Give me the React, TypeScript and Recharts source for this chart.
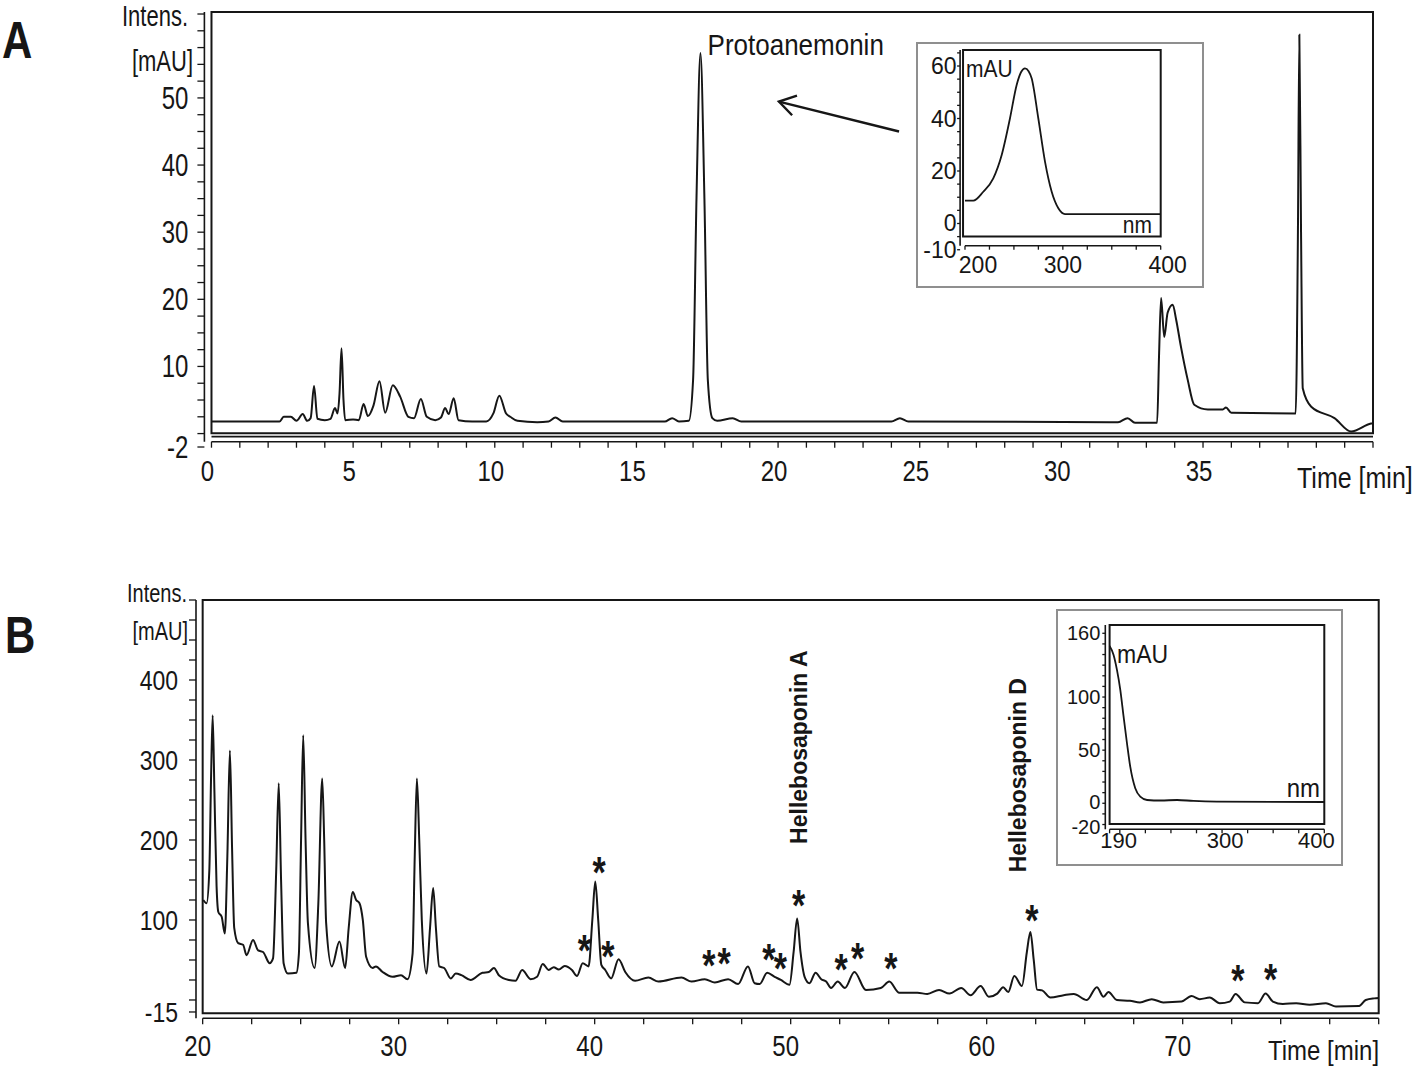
import React from "react";
import {
  ComposedChart,
  Line,
  Scatter,
  XAxis,
  YAxis,
  ReferenceArea,
  ReferenceLine,
} from "recharts";

const FONT = '"Liberation Sans", Arial, Helvetica, sans-serif';
const INK = "#161616";
const BOX_GREY = "#8f8f8f";

type Pt = [number, number];

// ---------- Panel A: chromatogram, time [min] vs intensity [mAU] ----------
const traceAEarly: Pt[] = [
  [0, 1.8], [2.4, 1.8], [2.55, 2.5], [2.8, 2.5], [3.0, 1.9], [3.22, 2.9],
  [3.38, 1.9], [3.5, 2.3], [3.62, 7.1], [3.74, 2.2], [4.0, 2.0], [4.2, 2.2],
  [4.36, 3.8], [4.45, 3.0], [4.52, 6.0], [4.59, 12.7], [4.66, 5.0], [4.72, 2.0],
  [5.0, 2.1], [5.2, 2.0], [5.37, 4.4], [5.52, 2.6], [5.72, 4.2], [5.93, 7.8],
  [6.13, 3.1], [6.4, 7.2], [6.66, 5.5], [6.95, 2.5], [7.15, 2.3], [7.39, 5.15],
  [7.6, 2.5], [7.9, 2.0], [8.1, 2.4], [8.25, 3.8], [8.37, 2.9], [8.55, 5.25],
  [8.72, 2.0], [9.2, 1.8], [9.7, 1.8], [9.95, 3.0], [10.16, 5.65], [10.4, 3.0],
  [10.55, 2.5], [10.8, 1.9], [11.5, 1.7], [11.9, 1.8], [12.14, 2.4], [12.4, 1.8],
];
const traceAMiddle: Pt[] = [
  [16.0, 1.8], [16.26, 2.3], [16.5, 1.8], [16.85, 1.9], [17.0, 8], [17.12, 35],
  [17.26, 56.7], [17.4, 35], [17.52, 8], [17.68, 2.3], [17.85, 1.9], [18.4, 2.3],
  [18.7, 1.8], [24.0, 1.8], [24.3, 2.3], [24.6, 1.8],
];
const traceALate: Pt[] = [
  [32.0, 1.7], [32.34, 2.3], [32.6, 1.6], [33.38, 1.6], [33.45, 12], [33.52, 20.2],
  [33.63, 14.4], [33.75, 18], [33.93, 19.2], [34.05, 17], [34.22, 12.95],
  [34.46, 8.0], [34.69, 4.3], [35.17, 3.6], [35.7, 3.6], [35.81, 3.9], [36.0, 3.1],
  [38.27, 3.0], [38.35, 30], [38.4, 59.4], [38.46, 30], [38.52, 6.75], [38.82, 4.0],
  [39.64, 2.3], [40.23, 0.3], [40.93, 1.5], [41, 1.55],
];
// inset A: UV spectrum, nm vs mAU
const spectrumA: Pt[] = [
  [200, 8.7], [208.5, 8.7], [218.7, 12.1], [228.9, 17.2], [237.5, 26.1], [246, 40.1],
  [252.8, 52.8], [257.5, 57.8], [261.3, 59.1], [265, 58], [268.1, 55.3], [274.9, 40.1],
  [281.8, 23.5], [288.6, 12.1], [295.4, 5.8], [302.2, 3.6], [400, 3.6],
];
const protoLabel = [{ t: 17.51, v: 56.35, label: "Protoanemonin" }];
const arrowA: Pt[] = [[24.27, 45.0], [20.03, 49.46]];

// ---------- Panel B ----------
const traceBEarly: Pt[] = [
  [20.03, 125], [20.2, 121], [20.34, 162], [20.43, 280], [20.51, 356], [20.6, 260],
  [20.71, 142], [20.8, 110], [20.97, 104], [21.13, 83], [21.26, 180], [21.39, 312],
  [21.5, 190], [21.61, 90], [21.81, 71], [22.06, 69], [22.24, 56], [22.57, 75],
  [22.83, 62], [23.08, 60], [23.42, 46], [23.59, 52], [23.75, 160], [23.88, 271],
  [24.0, 150], [24.13, 46], [24.35, 33], [24.78, 34], [24.91, 58], [25.02, 200],
  [25.13, 331], [25.25, 200], [25.37, 96], [25.71, 40], [25.9, 120], [26.1, 277],
  [26.2, 200], [26.3, 96], [26.59, 42], [26.98, 73], [27.27, 40], [27.45, 90],
  [27.66, 135], [27.83, 125], [28.0, 121], [28.17, 100], [28.34, 54], [28.67, 40],
  [28.84, 42], [29.18, 35], [29.69, 29], [30.12, 31], [30.45, 26], [30.71, 58],
  [30.82, 180], [30.93, 277], [31.05, 200], [31.18, 100], [31.42, 33], [31.6, 90],
  [31.76, 140], [31.9, 90], [32.07, 42], [32.32, 40], [32.66, 27], [32.91, 33],
];
const traceBMid: Pt[] = [
  [33.2, 31], [33.67, 25], [34.27, 34], [34.6, 35], [34.86, 40], [35.11, 31],
  [35.62, 25], [35.96, 24], [36.3, 37.5], [36.73, 26], [37.06, 29], [37.35, 45],
  [37.66, 37.5], [37.91, 41], [38.17, 38], [38.47, 42.5], [38.84, 37.5], [39.1, 30],
  [39.39, 46], [39.69, 42], [39.88, 100], [40.03, 148], [40.18, 100], [40.34, 44],
  [40.54, 37.5], [40.84, 27], [41.22, 51], [41.56, 35], [42.06, 24], [42.74, 28],
  [43.25, 23], [44.43, 28], [44.94, 23], [45.62, 26], [46.13, 22], [46.81, 26],
  [47.32, 20], [47.82, 42], [48.16, 21], [48.42, 20], [48.8, 34], [49.18, 29],
  [49.5, 25], [49.94, 19], [50.15, 60], [50.33, 102], [50.5, 60], [50.71, 29],
  [50.96, 21], [51.27, 34], [51.56, 26], [51.81, 23], [52.06, 15], [52.4, 23],
  [52.77, 15], [53.25, 35], [53.84, 12.5], [54.6, 15], [55.03, 23], [55.54, 9],
];
const traceBLate: Pt[] = [
  [56.47, 9], [56.97, 7.5], [57.57, 12.5], [58.1, 8], [58.7, 15], [59.18, 6],
  [59.69, 17.5], [60.11, 4], [60.54, 8], [60.84, 16], [61.1, 10], [61.41, 30],
  [61.8, 17.5], [62.05, 60], [62.23, 85], [62.4, 50], [62.57, 13], [62.83, 12],
  [63.25, 3], [63.93, 6], [64.44, 7.5], [65.11, 0], [65.62, 16], [65.96, 4],
  [66.21, 10], [66.64, 0], [67.31, -1], [67.82, -3], [68.42, 1], [69.01, -3],
  [69.94, -2], [70.45, 5], [70.87, 1], [71.38, 3], [71.89, -4], [72.4, -2],
  [72.7, 7.5], [73.16, -3], [73.84, -4], [74.23, 8], [74.6, -2], [75.11, -5],
  [75.79, -4], [76.47, -6], [77.31, -4], [77.82, -8], [79.0, -7.5], [79.34, 0],
  [79.77, 2], [80, 2.5],
];
// inset B: UV spectrum
const spectrumB: Pt[] = [
  [190, 148], [193.9, 139.6], [197.2, 125.5], [200.5, 106.6], [203.7, 81.5],
  [207, 56.5], [210.2, 34.4], [215.1, 14.1], [220, 6.2], [226.6, 3.1], [240, 2.6],
  [256, 3.1], [272, 2.2], [295, 1.6], [400, 1.2],
];
// asterisks marking saponin peaks (position of the mark)
const starsB: Pt[] = [
  [39.47, 72.9], [40.23, 170.9], [40.67, 65.4], [45.83, 54.1], [46.6, 57.1],
  [48.89, 62.5], [49.47, 51.25], [50.4, 130], [52.57, 49.1], [53.42, 63.4],
  [55.11, 50.9], [62.31, 110.4], [72.82, 35.4], [74.48, 37.5],
];
const compoundsB = [
  { t: 50.41, v: 316, label: "Hellebosaponin A" },
  { t: 61.6, v: 281, label: "Hellebosaponin D" },
];

// tick labels
const aXLabels = [0, 5, 10, 15, 20, 25, 30, 35];
const aYLabels = [-2, 10, 20, 30, 40, 50];
const bXLabels = [20, 30, 40, 50, 60, 70];
const bYLabels = [-15, 100, 200, 300, 400];
const insetAXLabels = [200, 300, 400];
const insetAYLabels = [-10, 0, 20, 40, 60];
const insetBXLabels = [190, 300, 400];
const insetBYLabels = [-20, 0, 50, 100, 160];

const toRows = (...parts: Pt[][]) => parts.flat().map(([t, v]) => ({ t, v }));
const steps = (from: number, to: number, step: number) => {
  const out: number[] = [];
  for (let x = from; x <= to + 1e-9; x += step) out.push(Math.round(x * 100) / 100);
  return out;
};

const rowsA = toRows(traceAEarly, traceAMiddle, traceALate);
const rowsB = toRows(traceBEarly, traceBMid, traceBLate);
const rowsSpecA = toRows(spectrumA);
const rowsSpecB = toRows(spectrumB);
const rowsStars = toRows(starsB);

function StretchText(props: {
  x: number;
  y: number;
  size: number;
  sy?: number;
  anchor?: "start" | "middle" | "end";
  weight?: string;
  baseline?: string;
  innerDy?: number;
  children: React.ReactNode;
}) {
  const { x, y, size, sy = 1, anchor = "middle", weight = "normal", baseline = "central", innerDy = 0 } = props;
  return (
    <g transform={`translate(${x},${y}) scale(1,${sy})`}>
      <text
        x={0}
        y={innerDy}
        textAnchor={anchor}
        dominantBaseline={baseline}
        fontSize={size}
        fontWeight={weight}
        fontFamily={FONT}
        fill={INK}
      >
        {props.children}
      </text>
    </g>
  );
}

type TickOpts = {
  size: number;
  sy?: number;
  side: "left" | "bottom";
  dx?: number;
  dy?: number;
  shift?: Record<string, number>;
  shiftY?: Record<string, number>;
};

function makeTick(labels: number[], o: TickOpts) {
  return (p: any) => {
    const v = Number(p.payload?.value);
    if (!labels.some((l) => Math.abs(l - v) < 1e-6)) return <g />;
    const x = p.x + (o.dx ?? 0) + (o.shift?.[String(v)] ?? 0);
    const y = p.y + (o.dy ?? 0) + (o.shiftY?.[String(v)] ?? 0);
    return (
      <StretchText x={x} y={y} size={o.size} sy={o.sy} anchor={o.side === "left" ? "end" : "middle"}>
        {String(v)}
      </StretchText>
    );
  };
}

function ArrowShape(p: any) {
  const { x1, y1, x2, y2 } = p;
  const back = Math.atan2(y1 - y2, x1 - x2);
  const len = 19;
  const spread = 0.56;
  const a = [x2 + len * Math.cos(back - spread), y2 + len * Math.sin(back - spread)];
  const b = [x2 + len * Math.cos(back + spread), y2 + len * Math.sin(back + spread)];
  return (
    <g>
      <line x1={x1} y1={y1} x2={x2} y2={y2} stroke={INK} strokeWidth={2.4} />
      <polyline points={`${a[0]},${a[1]} ${x2},${y2} ${b[0]},${b[1]}`} fill="none" stroke={INK} strokeWidth={2.4} />
    </g>
  );
}

function ProtoShape(p: any) {
  return (
    <StretchText x={p.cx} y={p.cy} size={26} sy={1.1} anchor="start" baseline="alphabetic">
      {p.payload?.label ?? ""}
    </StretchText>
  );
}

function StarShape(p: any) {
  return (
    <StretchText x={p.cx} y={p.cy} size={34} sy={1.3} weight="bold" baseline="alphabetic" innerDy={19}>
      *
    </StretchText>
  );
}

function CompoundShape(p: any) {
  return (
    <text
      transform={`translate(${p.cx},${p.cy}) rotate(-90)`}
      textAnchor="middle"
      dominantBaseline="central"
      fontSize={23}
      fontWeight="bold"
      fontFamily={FONT}
      fill={INK}
    >
      {p.payload?.label ?? ""}
    </text>
  );
}

const axisLine = { stroke: INK, strokeWidth: 1.6 };
const tickLine = { stroke: INK, strokeWidth: 1.3 };

function PanelA() {
  return (
    <ComposedChart width={1417} height={520} margin={{ top: 12, right: 44, bottom: 18.3, left: 144.4 }}>
      <XAxis
        type="number"
        dataKey="t"
        domain={[-0.25, 41]}
        allowDataOverflow
        ticks={steps(0, 41, 1)}
        interval={0}
        tickSize={6}
        tickMargin={0}
        height={60}
        axisLine={false}
        tickLine={tickLine}
        tick={makeTick(aXLabels, { size: 24, sy: 1.25, side: "bottom", dx: -4, dy: 23.3 })}
      />
      <YAxis
        type="number"
        domain={[-1.21, 62.8]}
        allowDataOverflow
        ticks={[-2, ...steps(0, 62.5, 2.5)]}
        interval={0}
        tickSize={7}
        tickMargin={9}
        width={60}
        axisLine={axisLine}
        tickLine={tickLine}
        tick={makeTick(aYLabels, { size: 24, sy: 1.28, side: "left" })}
      />
      <ReferenceArea x1={0} x2={41} y1={0.04} y2={62.8} fill="none" stroke={INK} strokeWidth={2} ifOverflow="visible" />
      <ReferenceLine segment={[{ x: 0, y: -0.46 }, { x: 41, y: -0.46 }]} stroke={INK} strokeWidth={1.6} ifOverflow="visible" />
      <ReferenceLine segment={[{ x: 0, y: -1.21 }, { x: 41, y: -1.21 }]} stroke={INK} strokeWidth={1.6} ifOverflow="visible" />
      <Line
        data={rowsA}
        dataKey="v"
        type="monotone"
        stroke={INK}
        strokeWidth={2}
        dot={false}
        activeDot={false}
        isAnimationActive={false}
      />
      <ReferenceLine
        segment={[{ x: arrowA[0][0], y: arrowA[0][1] }, { x: arrowA[1][0], y: arrowA[1][1] }]}
        shape={ArrowShape}
        ifOverflow="visible"
      />
      <Scatter data={protoLabel} dataKey="v" shape={ProtoShape} isAnimationActive={false} />
    </ComposedChart>
  );
}

function PanelB() {
  return (
    <ComposedChart width={1417} height={537} margin={{ top: 70, right: 38.3, bottom: 8.7, left: 136 }}>
      <XAxis
        type="number"
        dataKey="t"
        domain={[19.66, 80]}
        allowDataOverflow
        ticks={steps(20, 80, 2.5)}
        interval={0}
        tickSize={6}
        tickMargin={0}
        height={40}
        axisLine={false}
        tickLine={tickLine}
        tick={makeTick(bXLabels, { size: 24, sy: 1.25, side: "bottom", dx: -5, dy: 21.7 })}
      />
      <YAxis
        type="number"
        domain={[-22.9, 500]}
        allowDataOverflow
        ticks={[-15, ...steps(0, 500, 25)]}
        interval={0}
        tickSize={7}
        tickMargin={11}
        width={60}
        axisLine={axisLine}
        tickLine={tickLine}
        tick={makeTick(bYLabels, { size: 23, sy: 1.22, side: "left" })}
      />
      <ReferenceArea x1={20} x2={80} y1={-16.6} y2={500} fill="none" stroke={INK} strokeWidth={2} ifOverflow="visible" />
      <ReferenceLine segment={[{ x: 20, y: -22.9 }, { x: 80, y: -22.9 }]} stroke={INK} strokeWidth={1.6} ifOverflow="visible" />
      <Line
        data={rowsB}
        dataKey="v"
        type="monotone"
        stroke={INK}
        strokeWidth={2}
        dot={false}
        activeDot={false}
        isAnimationActive={false}
      />
      <Scatter data={rowsStars} dataKey="v" shape={StarShape} isAnimationActive={false} />
      <Scatter data={compoundsB} dataKey="v" shape={CompoundShape} isAnimationActive={false} />
    </ComposedChart>
  );
}

function InsetA() {
  return (
    <ComposedChart width={286} height={244} margin={{ top: 7, right: 42.3, bottom: 11.3, left: 5.1 }}>
      <XAxis
        type="number"
        dataKey="t"
        domain={[195, 400]}
        allowDataOverflow
        ticks={steps(200, 400, 25)}
        interval={0}
        tickSize={4}
        tickMargin={0}
        height={30}
        axisLine={false}
        tickLine={tickLine}
        tick={makeTick(insetAXLabels, { size: 23, side: "bottom", dy: 15.3, shift: { "200": 13, "400": 7 } })}
      />
      <YAxis
        type="number"
        domain={[-8.46, 66.1]}
        allowDataOverflow
        ticks={steps(-10, 65, 5)}
        interval={0}
        tickSize={3}
        tickMargin={0.5}
        width={38}
        axisLine={axisLine}
        tickLine={tickLine}
        tick={makeTick(insetAYLabels, { size: 23, side: "left" })}
      />
      <ReferenceArea x1={198} x2={400} y1={-5} y2={66.1} fill="none" stroke={INK} strokeWidth={2} ifOverflow="visible" />
      <ReferenceLine segment={[{ x: 200, y: -8.46 }, { x: 400, y: -8.46 }]} stroke={INK} strokeWidth={1.6} ifOverflow="visible" />
      <Line
        data={rowsSpecA}
        dataKey="v"
        type="monotone"
        stroke={INK}
        strokeWidth={1.8}
        dot={false}
        activeDot={false}
        isAnimationActive={false}
      />
    </ComposedChart>
  );
}

function InsetB() {
  return (
    <ComposedChart width={285} height={255} margin={{ top: 15, right: 17.7, bottom: 7.7, left: 4.3 }}>
      <XAxis
        type="number"
        dataKey="t"
        domain={[185.8, 400]}
        allowDataOverflow
        ticks={[190, ...steps(200, 400, 25)]}
        interval={0}
        tickSize={4}
        tickMargin={0}
        height={28}
        axisLine={false}
        tickLine={tickLine}
        tick={makeTick(insetBXLabels, { size: 22, side: "bottom", dy: 7.5, shift: { "190": 9, "300": 3, "400": -8 } })}
      />
      <YAxis
        type="number"
        domain={[-24.5, 167.8]}
        allowDataOverflow
        ticks={steps(-20, 160, 10)}
        interval={0}
        tickSize={3}
        tickMargin={2}
        width={44}
        axisLine={axisLine}
        tickLine={tickLine}
        tick={makeTick(insetBYLabels, { size: 20, side: "left", shiftY: { "-20": 2.5, "0": -1 } })}
      />
      <ReferenceArea x1={190} x2={400} y1={-19.5} y2={167.8} fill="none" stroke={INK} strokeWidth={2} ifOverflow="visible" />
      <ReferenceLine segment={[{ x: 190, y: -24.5 }, { x: 400, y: -24.5 }]} stroke={INK} strokeWidth={1.6} ifOverflow="visible" />
      <Line
        data={rowsSpecB}
        dataKey="v"
        type="monotone"
        stroke={INK}
        strokeWidth={1.8}
        dot={false}
        activeDot={false}
        isAnimationActive={false}
      />
    </ComposedChart>
  );
}

const abs = (left: number, top: number, extra: React.CSSProperties = {}): React.CSSProperties => ({
  position: "absolute",
  left,
  top,
  ...extra,
});

export default function App() {
  return (
    <div style={abs(0, 0, { width: 1417, height: 1067, background: "#fff", overflow: "hidden" })}>
      <div style={abs(0, 0)}>
        <PanelA />
      </div>
      <div style={abs(0, 530)}>
        <PanelB />
      </div>
      <div style={abs(917, 43, { width: 286, height: 244, background: "#fff", outline: `2px solid ${BOX_GREY}`, outlineOffset: -1 })}>
        <InsetA />
      </div>
      <div style={abs(1056.7, 610, { width: 285, height: 255, background: "#fff", outline: `2px solid ${BOX_GREY}`, outlineOffset: -1 })}>
        <InsetB />
      </div>
      <svg width={1417} height={1067} style={abs(0, 0, { pointerEvents: "none" })}>
        <StretchText x={2} y={41} size={42} sy={1.22} weight="bold" anchor="start">A</StretchText>
        <StretchText x={5} y={636} size={42} sy={1.22} weight="bold" anchor="start">B</StretchText>
        <StretchText x={188} y={16} size={22} sy={1.3} anchor="end">Intens.</StretchText>
        <StretchText x={193} y={61} size={22} sy={1.3} anchor="end">[mAU]</StretchText>
        <StretchText x={1297} y={478} size={25} sy={1.2} anchor="start">Time [min]</StretchText>
        <StretchText x={187} y={593} size={20} sy={1.3} anchor="end">Intens.</StretchText>
        <StretchText x={188} y={631} size={20} sy={1.3} anchor="end">[mAU]</StretchText>
        <StretchText x={1268} y={1050} size={24} sy={1.18} anchor="start">Time [min]</StretchText>
        <StretchText x={966} y={69} size={21} sy={1.1} anchor="start">mAU</StretchText>
        <StretchText x={1152} y={225} size={21} sy={1.1} anchor="end">nm</StretchText>
        <StretchText x={1117} y={654} size={23} sy={1.1} anchor="start">mAU</StretchText>
        <StretchText x={1320} y={787.5} size={24} sy={1.1} anchor="end">nm</StretchText>
      </svg>
    </div>
  );
}
